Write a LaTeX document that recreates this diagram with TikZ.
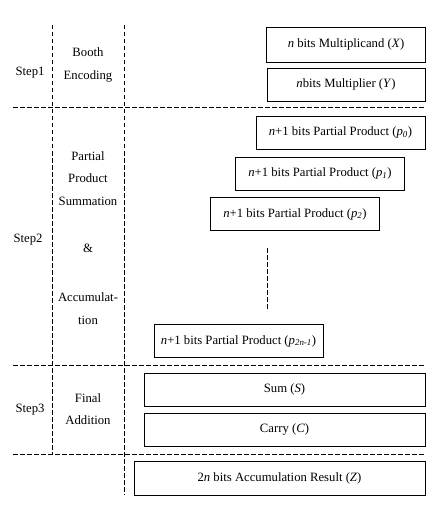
\documentclass[tikz,border=0pt]{standalone}
\usepackage{fontspec}
\setmainfont{Liberation Serif}
\usetikzlibrary{positioning}
\begin{document}
\begin{tikzpicture}[x=1pt, y=-1pt,
	font=\fontsize{12.7}{14}\selectfont,
	every box/.style={draw, line width=0.95pt, minimum height=33pt, inner sep=0pt},
	sep line/.style={line width=1pt, dash pattern=on 4.5pt off 2.5pt},
	step label/.style={align=center, font=\fontsize{12.7}{22.5}\selectfont}]
	\useasboundingbox (0,0) rectangle (443,505);
	
	% operands
	\node [every box/.try, minimum width=159pt, minimum height=35pt] (mcand) at (346,44.5) {\textit{n} bits Multiplicand (\textit{X})};
	\node [every box/.try, minimum width=158pt] (mplier) at (346,84.5) {\textit{n}bits Multiplier (\textit{Y})};
	
	% partial products
	\foreach \x/\y/\s [count=\i from 0] in {340.5/132.5/0, 320/173.5/1, 295/214/2}
	\node [every box/.try, minimum width=169pt] (pp-\i) at (\x,\y) {\textit{n}+1 bits Partial Product (\textit{p}\textsubscript{\textit{\s}})};
	
	\node [every box/.try, minimum width=169pt] (pp-last) at (238.5,341) {\textit{n}+1 bits Partial Product (\textit{p}\textsubscript{\textit{2n-1}})};
	
	\coordinate (dots-top) at (267,248);
	\coordinate (dots-bot) at (267,310);
	\draw [sep line] (dots-top) -- (dots-bot);
	
	% final addition
	\node [every box/.try, minimum width=281pt] (sum) at (284.5,389.5) {Sum (\textit{S})};
	\node [every box/.try, minimum width=281pt] (carry) at (284.5,429.5) {Carry (\textit{C})};
	
	\node [every box/.try, minimum width=291pt, minimum height=34pt] (result) at (279.5,478) {2\textit{n} bits Accumulation Result (\textit{Z})};
	
	% separators
	\draw [sep line] (52,25) -- (52,454);
	\draw [sep line] (124,25) -- (124,495);
	\foreach \y in {108,365,454}
	\draw [sep line] (13,\y) -- (425,\y);
	
	% step labels
	\node [step label] (step-1) at (30,73) {Step1};
	\node [step label] (step-2) at (28,240) {Step2};
	\node [step label] (step-3) at (30,410) {Step3};
	
	\node [step label] (booth) at (88,65) {Booth\\Encoding};
	\node [step label] (summ) at (88,178.5) {Partial\\Product\\Summation};
	\node [step label] (amp) at (88,248) {\&};
	\node [step label] (accum) at (88,308.5) {Accumulat-\\tion};
	\node [step label] (final) at (88,409) {Final\\Addition};
\end{tikzpicture}
\end{document}
